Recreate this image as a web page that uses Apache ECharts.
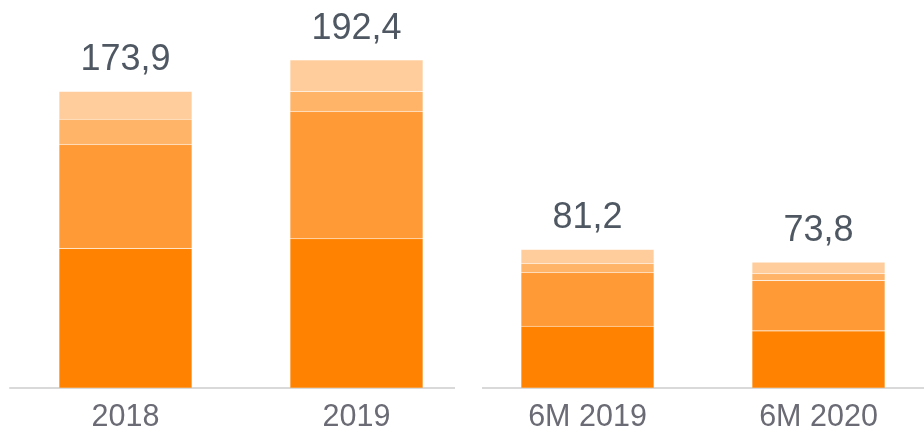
<!DOCTYPE html>
<html>
<head>
<meta charset="utf-8">
<script src="https://cdn.jsdelivr.net/npm/echarts@6/dist/echarts.min.js"></script>
<style>
html,body{margin:0;padding:0;background:#fff;overflow:hidden;width:924px;height:433px;}
#chart{width:934px;height:433px;}
</style>
</head>
<body>
<div id="chart"></div>
<script>
var categories = ['2018', '2019', '6M 2019', '6M 2020'];
var seg1 = [81.9, 87.5, 36.2, 33.5];
var seg2 = [60.9, 74.7, 31.5, 29.5];
var seg3 = [14.8, 11.8, 5.3, 4.0];
var seg4 = [16.3, 18.4, 8.2, 6.8];
var totals = [173.9, 192.4, 81.2, 73.8];
var totalLabels = ['173,9', '192,4', '81,2', '73,8'];

var colors = ['#ff8300', '#ff9a36', '#ffb468', '#ffcd9c'];
var font = 'Liberation Sans, Arial, sans-serif';

function mk(name, data, color, withLabel) {
  var s = {
    name: name,
    type: 'bar',
    stack: 'total',
    data: data,
    barWidth: 133,
    itemStyle: { color: color, borderColor: 'rgba(255,255,255,0.1)', borderWidth: 0.6 },
    emphasis: { disabled: true }
  };
  if (withLabel) {
    s.label = {
      show: true,
      position: 'top',
      distance: 13,
      fontFamily: font,
      fontSize: 36,
      color: '#4f5862',
      formatter: function (p) { return totalLabels[p.dataIndex]; }
    };
  }
  return s;
}

var chart = echarts.init(document.getElementById('chart'));
chart.setOption({
  animation: false,
  grid: { left: 10, right: 0, top: 47, bottom: 43 },
  xAxis: {
    type: 'category',
    data: categories,
    axisLine: { show: true, lineStyle: { color: '#d9d9d9', width: 2 } },
    axisTick: { show: false },
    axisLabel: { fontFamily: font, fontSize: 30.5, color: '#6b6b75', margin: 14 }
  },
  yAxis: {
    type: 'value',
    min: 0,
    max: 200,
    show: false,
    splitLine: { show: false }
  },
  series: [
    mk('s1', seg1, colors[0], false),
    mk('s2', seg2, colors[1], false),
    mk('s3', seg3, colors[2], false),
    mk('s4', seg4, colors[3], true)
  ],
  graphic: [{
    type: 'rect',
    shape: { x: 455, y: 385, width: 27, height: 10 },
    style: { fill: '#ffffff' },
    z: 100
  }]
});
</script>
</body>
</html>
